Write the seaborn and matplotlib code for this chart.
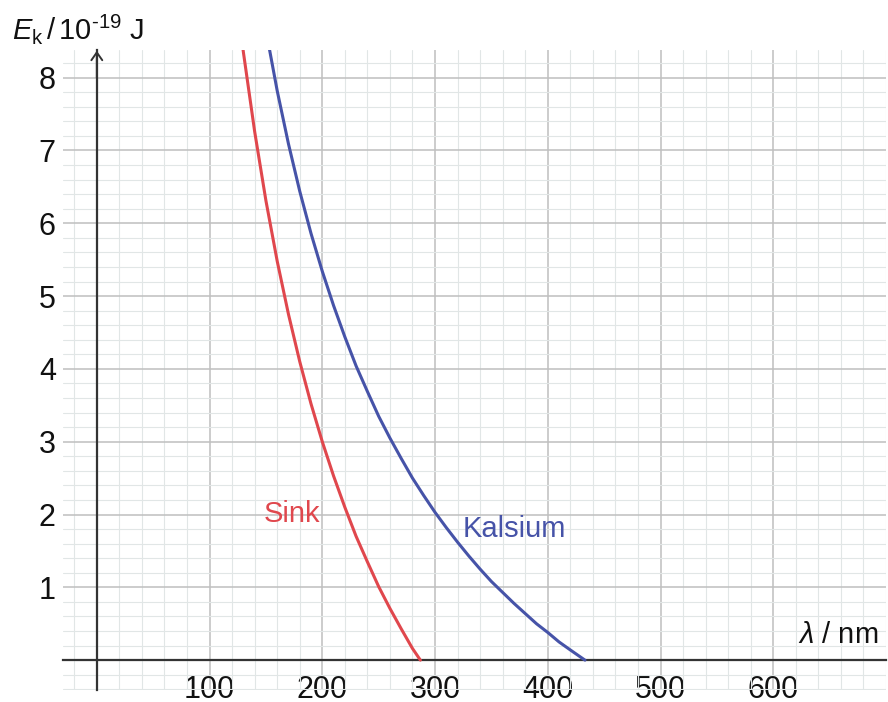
import matplotlib
matplotlib.use("Agg")
import matplotlib.pyplot as plt
from matplotlib.ticker import MultipleLocator, FixedLocator
import seaborn as sns
import pandas as pd

# ---- data ----
zinc_wavelength = [128, 130, 140, 150, 160, 170, 180, 190, 200, 210, 220, 230,
                   240, 250, 260, 270, 280, 287]
zinc_energy = [8.59, 8.35, 7.26, 6.31, 5.48, 4.75, 4.10, 3.52, 3.00, 2.53, 2.10,
               1.70, 1.35, 1.01, 0.71, 0.43, 0.16, 0.0]
calcium_wavelength = [150, 160, 170, 180, 190, 200, 210, 220, 230, 240, 250, 260,
                      270, 280, 290, 300, 310, 320, 330, 340, 350, 360, 370, 380,
                      390, 400, 410, 420, 433]
calcium_energy = [8.65, 7.82, 7.09, 6.44, 5.86, 5.34, 4.87, 4.44, 4.04, 3.69, 3.35,
                  3.05, 2.77, 2.50, 2.26, 2.03, 1.82, 1.62, 1.43, 1.25, 1.08, 0.93,
                  0.78, 0.64, 0.50, 0.38, 0.25, 0.14, 0.0]
series_names = ["Sink", "Kalsium"]
x_tick_values = [100, 200, 300, 400, 500, 600]
y_tick_values = [1, 2, 3, 4, 5, 6, 7, 8]

RED = "#e0474d"
BLUE = "#4653a8"
AXIS = "#333333"

df = pd.concat([
    pd.DataFrame({"wavelength": zinc_wavelength, "energy": zinc_energy,
                  "metal": series_names[0]}),
    pd.DataFrame({"wavelength": calcium_wavelength, "energy": calcium_energy,
                  "metal": series_names[1]}),
])

sns.set_style("white")
plt.rcParams["font.family"] = ["Liberation Sans", "DejaVu Sans"]
plt.rcParams["mathtext.fontset"] = "custom"
plt.rcParams["mathtext.rm"] = "Liberation Sans"
plt.rcParams["mathtext.it"] = "Liberation Sans:italic"
plt.rcParams["mathtext.bf"] = "Liberation Sans:bold"

fig = plt.figure(figsize=(8.88, 7.02), dpi=100)
ax = fig.add_axes([63 / 888, 12 / 702, 823 / 888, 640 / 702])

sns.lineplot(data=df, x="wavelength", y="energy", hue="metal",
             palette={series_names[0]: RED, series_names[1]: BLUE},
             sort=False, estimator=None, linewidth=2.2, legend=False, ax=ax,
             zorder=5)

ax.set_xlim(-30, 700)
ax.set_ylim(-0.41, 8.38)

# grid
ax.xaxis.set_major_locator(FixedLocator(x_tick_values))
ax.yaxis.set_major_locator(FixedLocator(y_tick_values))
ax.xaxis.set_minor_locator(MultipleLocator(20))
ax.yaxis.set_minor_locator(MultipleLocator(0.2))
ax.grid(which="minor", color="#e1e6e6", linewidth=0.8, zorder=0)
ax.grid(which="major", color="#bfbfbf", linewidth=1.1, zorder=1)
ax.set_axisbelow(True)

# axes through origin
for side in ["top", "right"]:
    ax.spines[side].set_visible(False)
ax.spines["left"].set_position(("data", 0))
ax.spines["bottom"].set_position(("data", 0))
for side in ["left", "bottom"]:
    ax.spines[side].set_color(AXIS)
    ax.spines[side].set_linewidth(1.6)
    ax.spines[side].set_zorder(3)

ax.tick_params(axis="y", which="major", direction="inout", length=13, width=1.3,
               color=AXIS, pad=23, labelsize=22, labelcolor="#111111")
ax.tick_params(axis="x", which="major", direction="in", length=6.5, width=1.3,
               color=AXIS, pad=10.5, labelsize=22, labelcolor="#111111")
ax.tick_params(which="minor", length=0)
ax.set_xticklabels([str(v) for v in x_tick_values])
ax.set_yticklabels([str(v) for v in y_tick_values])
ax.set_xlabel("")
ax.set_ylabel("")

# arrow at top of vertical axis
ax.annotate("", xy=(0, 8.37), xytext=(0, 8.0),
            arrowprops=dict(arrowstyle="->,head_length=0.4,head_width=0.28",
                            color=AXIS, lw=1.4, mutation_scale=14,
                            shrinkA=0, shrinkB=0), zorder=4)

# labels
fig.text(12 / 888, 1 - 39 / 702,
         r"$E_{\mathrm{k}}$$\,/\,$10$^{\text{-19}}$ J",
         fontsize=21, va="baseline", ha="left", color="#111111")
ax.text(693, 0.23, r"$\lambda$ / nm", fontsize=21, ha="right", va="baseline",
        color="#111111")
ax.text(147.6, 1.90, series_names[0], fontsize=21, color=RED, ha="left",
        va="baseline")
ax.text(324.4, 1.69, series_names[1], fontsize=21, color=BLUE, ha="left",
        va="baseline")

fig.savefig("out.png", dpi=100)
